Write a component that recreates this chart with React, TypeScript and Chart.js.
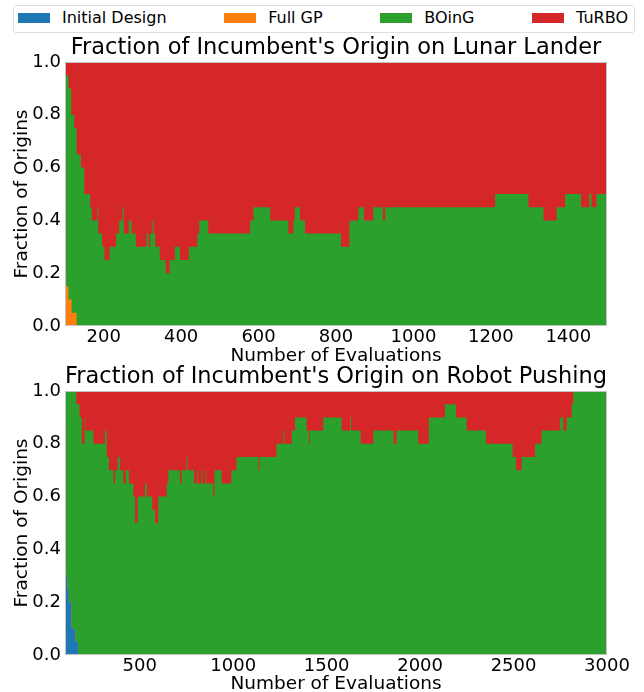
import React, { useEffect, useRef } from 'react';
import { Chart, registerables } from 'chart.js';

Chart.register(...registerables);

// ---------- shared ----------
const seriesNames = ['Initial Design', 'Full GP', 'BOinG', 'TuRBO'];
const seriesColors = ['#1f77b4', '#ff7f0e', '#2ca02c', '#d62728'];
const yTickValues = [0, 0.2, 0.4, 0.6, 0.8, 1.0];

// ---------- Lunar Lander (each series: evaluation where a level starts, fraction from there on) ----------
const lunarRange = [100, 1500];
const lunarXTicks = [200, 400, 600, 800, 1000, 1200, 1400];

const lunarInitialStart = [100];
const lunarInitialFrac = [0];

const lunarFullGPStart = [100, 103, 109, 117, 130];
const lunarFullGPFrac = [0.2, 0.15, 0.1, 0.05, 0];

const lunarBOinGStart = [
  100, 103, 116, 117, 124, 130, 141, 150, 165, 169, 184, 186, 196, 202, 215, 232, 240, 249,
  252, 265, 272, 283, 311, 316, 320, 326, 329, 333, 345, 360, 370, 384, 397, 420, 442, 447,
  470, 578, 587, 630, 677, 690, 694, 707, 720, 813, 835, 858, 872, 896, 921, 927, 1211, 1297,
  1336, 1370, 1392, 1433, 1454, 1460, 1473,
];
const lunarBOinGFrac = [
  0.75, 0.8, 0.7, 0.75, 0.7, 0.65, 0.6, 0.5, 0.45, 0.4, 0.45, 0.35, 0.3, 0.25, 0.3, 0.35, 0.4, 0.45,
  0.35, 0.4, 0.35, 0.3, 0.35, 0.3, 0.35, 0.4, 0.35, 0.3, 0.25, 0.2, 0.25, 0.3, 0.25, 0.3, 0.35, 0.4,
  0.35, 0.4, 0.45, 0.4, 0.35, 0.4, 0.45, 0.4, 0.35, 0.3, 0.4, 0.45, 0.4, 0.45, 0.4, 0.45, 0.5, 0.45,
  0.4, 0.45, 0.5, 0.45, 0.5, 0.45, 0.5,
];

const lunarTuRBOStart = [
  100, 109, 116, 124, 130, 141, 150, 165, 169, 184, 186, 196, 202, 215, 232, 240, 249,
  252, 265, 272, 283, 311, 316, 320, 326, 329, 333, 345, 360, 370, 384, 397, 420, 442, 447,
  470, 578, 587, 630, 677, 690, 694, 707, 720, 813, 835, 858, 872, 896, 921, 927, 1211, 1297,
  1336, 1370, 1392, 1433, 1454, 1460, 1473,
];
const lunarTuRBOFrac = [
  0.05, 0.1, 0.2, 0.25, 0.35, 0.4, 0.5, 0.55, 0.6, 0.55, 0.65, 0.7, 0.75, 0.7, 0.65, 0.6, 0.55,
  0.65, 0.6, 0.65, 0.7, 0.65, 0.7, 0.65, 0.6, 0.65, 0.7, 0.75, 0.8, 0.75, 0.7, 0.75, 0.7, 0.65, 0.6,
  0.65, 0.6, 0.55, 0.6, 0.65, 0.6, 0.55, 0.6, 0.65, 0.7, 0.6, 0.55, 0.6, 0.55, 0.6, 0.55, 0.5, 0.55,
  0.6, 0.55, 0.5, 0.55, 0.5, 0.55, 0.5,
];

// ---------- Robot Pushing ----------
const robotRange = [100, 3000];
const robotXTicks = [500, 1000, 1500, 2000, 2500, 3000];

const robotInitialStart = [100, 104, 112, 120, 134, 155, 170];
const robotInitialFrac = [0.5, 0.3, 0.25, 0.2, 0.1, 0.05, 0];

const robotFullGPStart = [100];
const robotFullGPFrac = [0];

const robotBOinGStart = [
  100, 104, 112, 120, 134, 155, 160, 170, 178,
  190, 205, 208, 252, 314, 323, 335, 359, 368, 382, 394, 412, 425, 442, 466, 475, 489, 528, 537, 567,
  582, 599, 644, 653, 715, 724, 751, 756, 790, 808, 812, 830, 834, 852, 856, 893, 900, 938, 990, 1018,
  1134, 1140, 1232, 1268, 1273, 1313, 1331, 1393, 1405, 1410, 1482, 1580, 1625, 1630, 1682, 1750, 1857,
  1874, 1990, 2047, 2133, 2192, 2249, 2352, 2495, 2513, 2543, 2615, 2650, 2748, 2766, 2784, 2811, 2820,
];
const robotBOinGFrac = [
  0.5, 0.7, 0.75, 0.8, 0.9, 0.95, 0.9, 0.95, 0.9,
  0.8, 0.9, 0.85, 0.8, 0.85, 0.75, 0.7, 0.65, 0.7, 0.75, 0.7, 0.65, 0.7, 0.65, 0.6, 0.5, 0.6, 0.65, 0.6, 0.55,
  0.5, 0.6, 0.65, 0.7, 0.65, 0.7, 0.75, 0.7, 0.65, 0.7, 0.65, 0.7, 0.65, 0.7, 0.65, 0.6, 0.7, 0.65, 0.7, 0.75,
  0.7, 0.75, 0.8, 0.85, 0.8, 0.85, 0.9, 0.85, 0.8, 0.85, 0.9, 0.85, 0.9, 0.85, 0.8, 0.85, 0.8,
  0.85, 0.8, 0.9, 0.95, 0.9, 0.85, 0.8, 0.75, 0.7, 0.75, 0.8, 0.85, 0.9, 0.85, 0.9, 0.95, 1.0,
];

const robotTuRBOStart = [
  100, 160, 178,
  190, 205, 208, 252, 314, 323, 335, 359, 368, 382, 394, 412, 425, 442, 466, 475, 489, 528, 537, 567,
  582, 599, 644, 653, 715, 724, 751, 756, 790, 808, 812, 830, 834, 852, 856, 893, 900, 938, 990, 1018,
  1134, 1140, 1232, 1268, 1273, 1313, 1331, 1393, 1405, 1410, 1482, 1580, 1625, 1630, 1682, 1750, 1857,
  1874, 1990, 2047, 2133, 2192, 2249, 2352, 2495, 2513, 2543, 2615, 2650, 2748, 2766, 2784, 2811, 2820,
];
const robotTuRBOFrac = [
  0, 0.05, 0.1,
  0.2, 0.1, 0.15, 0.2, 0.15, 0.25, 0.3, 0.35, 0.3, 0.25, 0.3, 0.35, 0.3, 0.35, 0.4, 0.5, 0.4, 0.35, 0.4, 0.45,
  0.5, 0.4, 0.35, 0.3, 0.35, 0.3, 0.25, 0.3, 0.35, 0.3, 0.35, 0.3, 0.35, 0.3, 0.35, 0.4, 0.3, 0.35, 0.3, 0.25,
  0.3, 0.25, 0.2, 0.15, 0.2, 0.15, 0.1, 0.15, 0.2, 0.15, 0.1, 0.15, 0.1, 0.15, 0.2, 0.15, 0.2,
  0.15, 0.2, 0.1, 0.05, 0.1, 0.15, 0.2, 0.25, 0.3, 0.25, 0.2, 0.15, 0.1, 0.15, 0.1, 0.05, 0,
];

// ---------- helpers ----------
type StepSeries = { start: number[]; frac: number[] };

function valueAt(s: StepSeries, x: number): number {
  let v = s.frac[0];
  for (let i = 0; i < s.start.length; i++) {
    if (s.start[i] <= x) v = s.frac[i];
    else break;
  }
  return v;
}

function buildDatasets(series: StepSeries[], xMax: number) {
  const all = new Set<number>();
  series.forEach((s) => s.start.forEach((x) => all.add(x)));
  all.add(xMax);
  const xs = Array.from(all).sort((a, b) => a - b);
  return series.map((s, i) => ({
    label: seriesNames[i],
    data: xs.map((x) => ({ x, y: valueAt(s, x) })),
    backgroundColor: seriesColors[i],
    borderColor: seriesColors[i],
    borderWidth: 0,
    pointRadius: 0,
    pointHoverRadius: 0,
    stepped: 'before' as const,
    fill: 'origin',
  }));
}

const FONT = "'DejaVu Sans', 'Liberation Sans', sans-serif";

const framePlugin = {
  id: 'frame',
  afterDatasetsDraw(chart: any) {
    const { ctx, chartArea } = chart;
    ctx.save();
    ctx.strokeStyle = '#c4c4c4';
    ctx.lineWidth = 1;
    const l = Math.round(chartArea.left) + 0.5;
    const t = Math.round(chartArea.top) + 0.5;
    const r = Math.round(chartArea.right) - 0.5;
    const b = Math.round(chartArea.bottom) - 0.5;
    ctx.strokeRect(l, t, r - l, b - t);
    ctx.restore();
  },
};

type PanelProps = {
  series: StepSeries[];
  range: number[];
  xTicks: number[];
  title: string;
  top: number;
  height: number;
  padTop: number;
  axisHeight: number;
  xTitlePadBottom: number;
};

function Panel(p: PanelProps) {
  const ref = useRef<HTMLCanvasElement | null>(null);
  useEffect(() => {
    if (!ref.current) return;
    const chart = new Chart(ref.current, {
      type: 'line',
      data: { datasets: buildDatasets(p.series, p.range[1]) as any },
      options: {
        animation: false,
        responsive: false,
        devicePixelRatio: 1,
        events: [],
        layout: { padding: { top: p.padTop, left: 0, right: 37, bottom: 0 } },
        plugins: {
          legend: { display: false },
          tooltip: { enabled: false },
          title: {
            display: true,
            text: p.title,
            fullSize: false,
            color: '#000',
            font: { family: FONT, size: 22.5, weight: 'normal', lineHeight: 1.2 },
            padding: { top: 0, bottom: 0 },
          },
        },
        scales: {
          x: {
            type: 'linear',
            min: p.range[0],
            max: p.range[1],
            grid: { display: false, drawTicks: false },
            border: { display: false },
            afterBuildTicks: (s: any) => {
              s.ticks = p.xTicks.map((v) => ({ value: v }));
            },
            ticks: {
              autoSkip: false,
              maxRotation: 0,
              padding: 1,
              color: '#000',
              font: { family: FONT, size: 18 },
              callback: (v: any) => String(v),
            },
            title: {
              display: true,
              text: 'Number of Evaluations',
              color: '#000',
              font: { family: FONT, size: 18.5 },
              padding: { top: 0, bottom: p.xTitlePadBottom },
            },
            afterFit: (s: any) => {
              s.height = p.axisHeight;
            },
          },
          y: {
            type: 'linear',
            stacked: true,
            min: 0,
            max: 1,
            grid: { display: false, drawTicks: false },
            border: { display: false },
            afterBuildTicks: (s: any) => {
              s.ticks = yTickValues.map((v) => ({ value: v }));
            },
            ticks: {
              padding: 4,
              color: '#000',
              font: { family: FONT, size: 18 },
              callback: (v: any) => Number(v).toFixed(1),
            },
            title: {
              display: true,
              text: 'Fraction of Origins',
              color: '#000',
              font: { family: FONT, size: 18.5 },
              padding: { top: 11, bottom: 0 },
            },
            afterFit: (s: any) => {
              s.width = 65;
            },
          },
        },
      },
      plugins: [framePlugin],
    });
    return () => chart.destroy();
  }, []);
  return (
    <canvas
      ref={ref}
      width={644}
      height={p.height}
      style={{ position: 'absolute', left: 0, top: p.top, width: 644, height: p.height, display: 'block' }}
    />
  );
}

function Legend() {
  return (
    <div
      style={{
        position: 'absolute',
        left: 13,
        top: 5,
        width: 622,
        height: 28,
        boxSizing: 'border-box',
        border: '1px solid #dedede',
        borderRadius: 3,
        display: 'flex',
        alignItems: 'center',
        justifyContent: 'space-between',
        padding: '0 6px 2px 4px',
        fontFamily: FONT,
        fontSize: 16,
        lineHeight: '16px',
        color: '#000',
        background: '#fff',
        zIndex: 2,
      }}
    >
      {seriesNames.map((name, i) => (
        <div key={name} style={{ display: 'flex', alignItems: 'center' }}>
          <span style={{ display: 'inline-block', width: 32, height: 10, background: seriesColors[i] }} />
          <span style={{ marginLeft: 12, whiteSpace: 'nowrap' }}>{name}</span>
        </div>
      ))}
    </div>
  );
}

export default function App() {
  const lunar: StepSeries[] = [
    { start: lunarInitialStart, frac: lunarInitialFrac },
    { start: lunarFullGPStart, frac: lunarFullGPFrac },
    { start: lunarBOinGStart, frac: lunarBOinGFrac },
    { start: lunarTuRBOStart, frac: lunarTuRBOFrac },
  ];
  const robot: StepSeries[] = [
    { start: robotInitialStart, frac: robotInitialFrac },
    { start: robotFullGPStart, frac: robotFullGPFrac },
    { start: robotBOinGStart, frac: robotBOinGFrac },
    { start: robotTuRBOStart, frac: robotTuRBOFrac },
  ];
  return (
    <div style={{ position: 'absolute', left: 0, top: 0, width: 644, height: 692, background: '#fff', overflow: 'hidden' }}>
      <Panel
        series={lunar}
        range={lunarRange}
        xTicks={lunarXTicks}
        title="Fraction of Incumbent's Origin on Lunar Lander"
        top={0}
        height={372}
        padTop={35}
        axisHeight={46}
        xTitlePadBottom={5}
      />
      <Panel
        series={robot}
        range={robotRange}
        xTicks={robotXTicks}
        title="Fraction of Incumbent's Origin on Robot Pushing"
        top={360}
        height={332}
        padTop={4}
        axisHeight={37}
        xTitlePadBottom={-3.5}
      />
      <Legend />
    </div>
  );
}
